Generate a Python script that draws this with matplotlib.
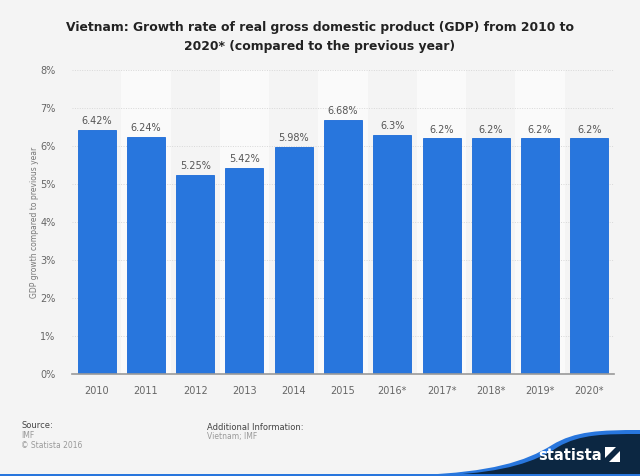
import numpy as np
import matplotlib
matplotlib.use("Agg")
import matplotlib.pyplot as plt
from matplotlib.path import Path
from matplotlib.patches import PathPatch, Rectangle, Polygon

# Data
years = ["2010", "2011", "2012", "2013", "2014", "2015",
         "2016*", "2017*", "2018*", "2019*", "2020*"]
growth = [6.42, 6.24, 5.25, 5.42, 5.98, 6.68, 6.3, 6.2, 6.2, 6.2, 6.2]
value_labels = ["6.42%", "6.24%", "5.25%", "5.42%", "5.98%", "6.68%",
                "6.3%", "6.2%", "6.2%", "6.2%", "6.2%"]
y_ticks = [0, 1, 2, 3, 4, 5, 6, 7, 8]

title = ("Vietnam: Growth rate of real gross domestic product (GDP) from 2010 to\n"
         "2020* (compared to the previous year)")

# Colors
bg_color = "#f4f4f4"
stripe_color = "#fafafa"
bar_color = "#2876dd"
bar_edge = "#1a6ad8"
navy = "#0c2742"

W, H = 640, 476
fig = plt.figure(figsize=(W / 100, H / 100), dpi=100, facecolor=bg_color)


def px(x, y):
    # pixel (from top-left) to figure fraction
    return x / W, 1 - y / H


# Axes
ax = fig.add_axes([72 / W, 1 - 374 / H, (614 - 72) / W, (374 - 70) / H])
ax.set_facecolor(bg_color)
x = np.arange(len(years))

# Alternating stripes
for i in x:
    if i % 2 == 1:
        ax.axvspan(i - 0.5, i + 0.5, color=stripe_color, zorder=0, lw=0)

ax.bar(x, growth, width=0.77, color=bar_color, edgecolor=bar_edge,
       linewidth=0.6, zorder=3)

for xi, v, lab in zip(x, growth, value_labels):
    ax.text(xi, v + 0.1, lab, ha="center", va="bottom", fontsize=7,
            color="#555555", zorder=4)

ax.set_xlim(-0.5, len(years) - 0.5)
ax.set_ylim(0, 8)
ax.set_yticks(y_ticks)
ax.set_yticklabels([f"{t}%" for t in y_ticks])
ax.set_xticks(x)
ax.set_xticklabels(years)
ax.tick_params(axis="both", length=0, labelsize=7, colors="#666666")
ax.tick_params(axis="x", pad=9)
ax.tick_params(axis="y", pad=12)
ax.yaxis.grid(True, linestyle=(0, (1, 1.5)), color="#d8d8d8", linewidth=0.7, zorder=1)
for side in ["top", "right", "left"]:
    ax.spines[side].set_visible(False)
ax.spines["bottom"].set_color("#999999")
ax.spines["bottom"].set_linewidth(1.2)
ax.spines["bottom"].set_zorder(5)

fig.text(*px(35, 222), "GDP growth compared to previous year", rotation=90,
         ha="center", va="center", fontsize=5.5, color="#777777")

# Title
fig.text(*px(320, 37), title, ha="center", va="center", fontsize=8.95,
         fontweight="bold", color="#222222", linespacing=1.6)

# Footer
fig.text(*px(21, 426), "Source:", fontsize=6, color="#444444", va="center")
fig.text(*px(21, 436), "IMF", fontsize=5.5, color="#999999", va="center")
fig.text(*px(21, 446), "\u00a9 Statista 2016", fontsize=5.5, color="#999999", va="center")
fig.text(*px(207, 427), "Additional Information:", fontsize=6, color="#444444", va="center")
fig.text(*px(207, 437), "Vietnam; IMF", fontsize=5.5, color="#999999", va="center")

# Logo swoosh
tr = fig.transFigure
codes = [Path.MOVETO, Path.CURVE4, Path.CURVE4, Path.CURVE4,
         Path.CURVE4, Path.CURVE4, Path.LINETO, Path.LINETO, Path.CLOSEPOLY]
blue_pts = [px(420, 475), px(490, 472), px(525, 462), px(552, 445),
            px(575, 431), px(600, 430), px(640, 430), px(640, 476), px(420, 476)]
fig.patches.append(PathPatch(Path(blue_pts, codes), facecolor=bar_color,
                             edgecolor="none", transform=tr))
navy_pts = [px(448, 475), px(505, 472), px(535, 462), px(558, 447),
            px(580, 434), px(605, 434), px(640, 434), px(640, 476), px(448, 476)]
fig.patches.append(PathPatch(Path(navy_pts, codes), facecolor=navy,
                             edgecolor="none", transform=tr))
fig.patches.append(Rectangle(px(0, 476), 1, 2 / H, facecolor=bar_color,
                             edgecolor="none", transform=tr))

fig.text(*px(570, 455), "statista", ha="center", va="center", fontsize=10.5,
         fontweight="bold", color="white")
fig.patches.append(Rectangle(px(605, 462), 15 / W, 15 / H, facecolor="white",
                             edgecolor="none", transform=tr))
fig.patches.append(Polygon([px(605, 462), px(609, 462), px(620, 451), px(620, 447),
                            px(616, 447), px(605, 458)], closed=True,
                           facecolor=navy, edgecolor="none", transform=tr))

fig.savefig("out.png", dpi=100, facecolor=bg_color)
